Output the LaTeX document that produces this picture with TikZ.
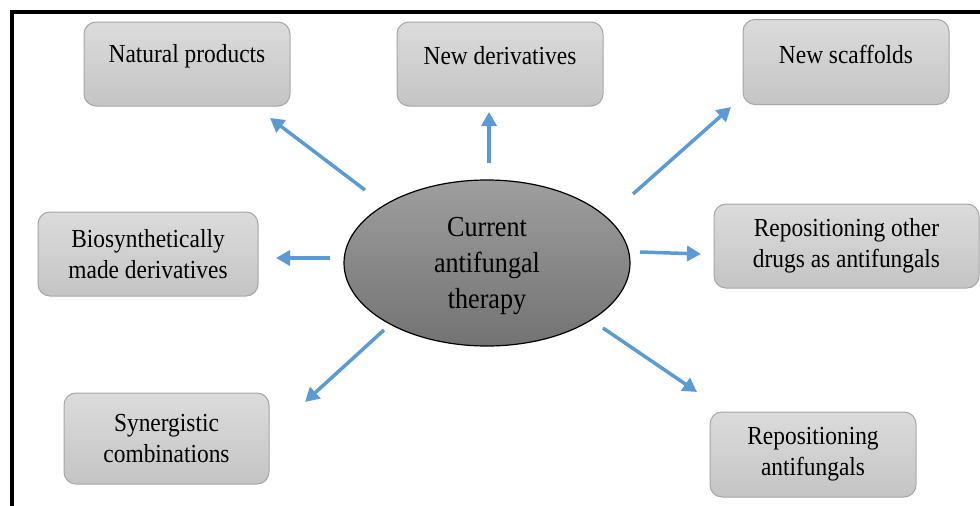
\documentclass[tikz,border=0pt]{standalone}
\usepackage{fontspec}
\setmainfont{Liberation Serif}[FakeStretch=0.9]
\usetikzlibrary{arrows.meta,shapes.geometric}
\definecolor{arrowblue}{HTML}{5B9BD5}
\definecolor{boxline}{HTML}{A6A6A6}
\newcommand{\upby}[2]{\raisebox{#1}[\height][\depth]{#2}}
\begin{document}
\begin{tikzpicture}[x={(1pt,0)},y={(0,-1pt)},
  box/.style={draw=boxline, line width=1pt, rounded corners=12pt,
    top color=black!14, bottom color=black!23, align=center,
    inner sep=0pt, font=\fontsize{26}{31}\selectfont},
  centre/.style={ellipse, draw=black, line width=1.2pt,
    top color=black!38, bottom color=black!55, align=center,
    inner sep=0pt, font=\fontsize{29}{36}\selectfont},
  link/.style={draw=arrowblue, line width=3.5pt,
    -{Triangle[length=14pt,width=15pt]}}]
\useasboundingbox (0,0) rectangle (980,506);
\fill[white] (0,0) rectangle (980,506);
% frame
\draw[line width=4pt] (10,12) -- (980,12);
\draw[line width=4pt] (12,10) -- (12,506);
% boxes
\node[box, minimum width=206pt, minimum height=84pt] (np) at (187,64)
  {\upby{8pt}{Natural products}};
\node[box, minimum width=206pt, minimum height=84pt] (nd) at (500,64)
  {\upby{8pt}{New derivatives}};
\node[box, minimum width=206pt, minimum height=85pt] (ns) at (846,62)
  {\upby{8pt}{New scaffolds}};
\node[box, minimum width=220pt, minimum height=84pt] (bm) at (148,254)
  {Biosynthetically\\made derivatives};
\node[box, minimum width=265pt, minimum height=84pt] (ro) at (846.5,246)
  {Repositioning other\\drugs as antifungals};
\node[box, minimum width=205pt, minimum height=91pt] (sc) at (166.5,438.5)
  {Synergistic\\combinations};
\node[box, minimum width=206pt, minimum height=85pt] (ra) at (813,454.5)
  {Repositioning\\antifungals};
% centre
\node[centre, minimum width=286pt, minimum height=166pt] (ct) at (487,263)
  {\upby{-3pt}{\parbox{200pt}{\centering Current\\antifungal\\therapy}}};
% arrow ends
\coordinate (a1s) at (365,190); \coordinate (a1e) at (270,118);
\coordinate (a2s) at (489,163); \coordinate (a2e) at (489,112);
\coordinate (a3s) at (633,194); \coordinate (a3e) at (731,107);
\coordinate (a4s) at (330,258); \coordinate (a4e) at (276,258);
\coordinate (a5s) at (640,252); \coordinate (a5e) at (701,254);
\coordinate (a6s) at (384,330); \coordinate (a6e) at (305,402);
\coordinate (a7s) at (603,328); \coordinate (a7e) at (697,392);
\draw[link] (a1s) -- (a1e);
\draw[link] (a2s) -- (a2e);
\draw[link] (a3s) -- (a3e);
\draw[link] (a4s) -- (a4e);
\draw[link] (a5s) -- (a5e);
\draw[link] (a6s) -- (a6e);
\draw[link] (a7s) -- (a7e);
\end{tikzpicture}
\end{document}
